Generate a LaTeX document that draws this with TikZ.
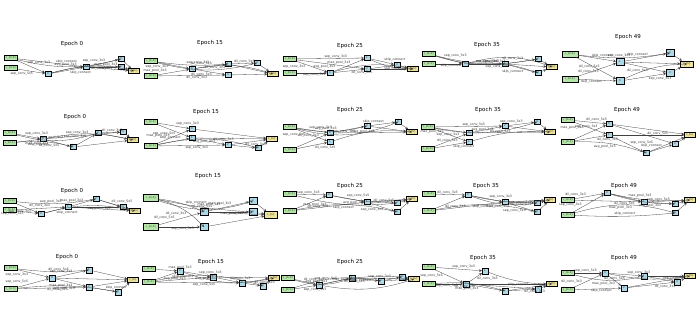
\documentclass[tikz,border=0pt]{standalone}
\usepackage{fontspec}
\setmainfont{DejaVu Sans}
\usetikzlibrary{positioning, arrows, arrows.meta}
\definecolor{inpgreen}{HTML}{B4E6A8}
\definecolor{midblue}{HTML}{ADD8E6}
\definecolor{outyellow}{HTML}{EEE39A}
\definecolor{edgegray}{rgb}{0.25,0.25,0.25}
\tikzset{
    ->, % Directed edges
    >=stealth, % Small arrowheads
    every edge/.style={draw=edgegray, line width=0.3pt}, % Thin edges
    lab/.style={font=\fontsize{3.2}{3.5}\selectfont, inner sep=0.4pt, text=black!80}, % Edge labels
    links/.style={nodes={pos=0.58}}, % Label position on edges
    ttl/.style={font=\fontsize{5.5}{6}\selectfont, text=black}, % Panel titles
    inp/.style={draw, line width=0.5pt, fill=inpgreen, minimum width=13pt, minimum height=5pt, inner sep=0.4pt, font=\fontsize{2.6}{3}\selectfont},
    mid/.style={draw, line width=0.5pt, fill=midblue, minimum size=5.5pt, inner sep=0.3pt, font=\fontsize{2.6}{3}\selectfont},
    outp/.style={draw, line width=0.5pt, fill=outyellow, minimum width=11pt, minimum height=5pt, inner sep=0.4pt, font=\fontsize{2.6}{3}\selectfont},
}

\begin{document}
\begin{tikzpicture}[x=1pt, y=-1pt, auto, every node/.style={lab}]
    \useasboundingbox (0,0) rectangle (700,336);

    % Row 1
    \begin{scope}[name prefix=ra-]
       \node[ttl] at (72,44) {Epoch 0};
       \node[inp] (a) at (11,58) {c\_\{k-2\}};
       \node[inp] (b) at (11,68) {c\_\{k-1\}};
       \node[mid] (n0) at (48,74) {0};
       \node[mid] (n1) at (86,67) {1};
       \node[mid] (n2) at (121,67) {2};
       \node[mid] (n3) at (121,59) {3};
       \node[outp] (ck) at (134,71) {c\_\{k\}};
       \path[links] (a) edge node [pos=0.35] {sep\_conv\_3x3} (n0)
                 edge node {skip\_connect} (n1)
                 edge [bend right=14] node {avg\_pool\_3x3} (n3)
             (b) edge node [swap] {sep\_conv\_5x5} (n0)
             (n0) edge node [swap] {skip\_connect} (n1)
                  edge [bend left=10] node [swap] {dil\_conv\_3x3} (n2)
             (n1) edge node {max\_pool\_3x3} (n2)
                  edge node {sep\_conv\_3x3} (n3)
             (n0) edge [bend left=14] (ck)
             (n1) edge (ck) (n2) edge (ck) (n3) edge (ck);
    \end{scope}

    \begin{scope}[name prefix=rb-]
       \node[ttl] at (210,43) {Epoch 15};
       \node[inp] (a) at (151,61) {c\_\{k-2\}};
       \node[inp] (b) at (151,76) {c\_\{k-1\}};
       \node[mid] (n0) at (192,69) {0};
       \node[mid] (n1) at (228,64) {1};
       \node[mid] (n2) at (257,63) {2};
       \node[mid] (n3) at (228,75) {3};
       \node[outp] (ck) at (273,74) {c\_\{k\}};
       \path[links] (a) edge node [swap, pos=0.35] {sep\_conv\_3x3} (n0)
                 edge [bend right=6] node {sep\_conv\_3x3} (n1)
                 edge [bend right=14] node {dil\_conv\_3x3} (n2)
             (b) edge node [pos=0.3] {max\_pool\_3x3} (n0)
                 edge node [swap] {dil\_conv\_3x3} (n3)
             (n0) edge node {dil\_conv\_5x5} (n1)
                  edge node [swap] {dil\_conv\_5x5} (n3)
             (n1) edge node {dil\_conv\_5x5} (n2)
             (n0) edge [bend left=14] (ck)
             (n1) edge (ck) (n2) edge (ck) (n3) edge (ck);
    \end{scope}

    \begin{scope}[name prefix=rc-]
       \node[ttl] at (350,46) {Epoch 25};
       \node[inp] (a) at (290,59) {c\_\{k-2\}};
       \node[inp] (b) at (290,73) {c\_\{k-1\}};
       \node[mid] (n0) at (330,73) {0};
       \node[mid] (n1) at (367,58) {1};
       \node[mid] (n2) at (367,69) {2};
       \node[mid] (n3) at (397,65) {3};
       \node[outp] (ck) at (413,69) {c\_\{k\}};
       \path[links] (a) edge node [swap, pos=0.3] {sep\_conv\_3x3} (n0)
                 edge node {sep\_conv\_3x3} (n1)
                 edge node [swap] {avg\_pool\_3x3} (n2)
             (b) edge node [swap] {sep\_conv\_5x5} (n0)
             (n0) edge node {max\_pool\_3x3} (n1)
                  edge node [swap] {dil\_conv\_5x5} (n2)
             (n1) edge node {skip\_connect} (n3)
             (n2) edge node [swap] {sep\_conv\_3x3} (n3)
             (n0) edge [bend left=14] (ck)
             (n1) edge [bend right=12] (ck) (n2) edge (ck) (n3) edge (ck);
    \end{scope}

    \begin{scope}[name prefix=rd-]
       \node[ttl] at (487,45) {Epoch 35};
       \node[inp] (a) at (429,54) {c\_\{k-2\}};
       \node[inp] (b) at (429,64) {c\_\{k-1\}};
       \node[mid] (n0) at (465,64) {0};
       \node[mid] (n1) at (505,64) {1};
       \node[mid] (n2) at (538,59) {2};
       \node[mid] (n3) at (538,73) {3};
       \node[outp] (ck) at (552,67) {c\_\{k\}};
       \path[links] (a) edge node [pos=0.3] {sep\_conv\_3x3} (n0)
                 edge [bend right=10] node {sep\_conv\_5x5} (n1)
                 edge [bend right=12] node {sep\_conv\_3x3} (n2)
             (b) edge node [swap] {skip\_connect} (n0)
             (n0) edge node {max\_pool\_3x3} (n1)
                  edge [bend left=12] node [swap] {sep\_conv\_5x5} (n3)
             (n1) edge node {dil\_conv\_3x3} (n2)
                  edge node [swap] {skip\_connect} (n3)
             (n0) edge [bend left=18] (ck)
             (n1) edge (ck) (n2) edge (ck) (n3) edge (ck);
    \end{scope}

    \begin{scope}[name prefix=re-, mid/.append style={minimum size=7.5pt}, inp/.append style={minimum width=16pt, minimum height=6pt}, outp/.append style={minimum height=6pt, minimum width=13pt}]
       \node[ttl] at (628,37) {Epoch 49};
       \node[inp] (a) at (570,54) {c\_\{k-2\}};
       \node[inp] (b) at (570,79) {c\_\{k-1\}};
       \node[mid] (n0) at (620,81) {0};
       \node[mid] (n1) at (620,62) {1};
       \node[mid] (n2) at (670,53) {2};
       \node[mid] (n3) at (670,73) {3};
       \node[outp] (ck) at (687,64) {c\_\{k\}};
       \path[links] (a) edge node [pos=0.35] {skip\_connect} (n1)
                 edge node [swap] {dil\_conv\_3x3} (n0)
                 edge [bend right=8] node {sep\_conv\_3x3} (n2)
             (b) edge node {dil\_conv\_5x5} (n1)
                 edge node [swap, pos=0.35] {skip\_connect} (n0)
             (n1) edge node {skip\_connect} (n2)
                  edge node [swap] {dil\_conv\_5x5} (n3)
             (n0) edge node [swap] {sep\_conv\_3x3} (n3)
             (n0) edge [bend left=12] (ck)
             (n1) edge (ck) (n2) edge (ck) (n3) edge (ck);
    \end{scope}

    % Row 2
    \begin{scope}[name prefix=sa-]
       \node[ttl] at (75,117) {Epoch 0};
       \node[inp] (a) at (10,133) {c\_\{k-2\}};
       \node[inp] (b) at (10,143) {c\_\{k-1\}};
       \node[mid] (n0) at (43,139) {0};
       \node[mid] (n1) at (73,147) {1};
       \node[mid] (n2) at (98,133) {2};
       \node[mid] (n3) at (123,132) {3};
       \node[outp] (ck) at (133,140) {c\_\{k\}};
       \path[links] (a) edge node [pos=0.35] {sep\_conv\_3x3} (n0)
                 edge [bend right=16] node {avg\_pool\_3x3} (n2)
             (b) edge node [swap, pos=0.35] {max\_pool\_3x3} (n0)
                 edge [bend left=10] node [swap] {skip\_connect} (n1)
             (n0) edge node [swap] {dil\_conv\_5x5} (n1)
                  edge node {sep\_conv\_3x3} (n3)
             (n1) edge node {sep\_conv\_5x5} (n2)
             (n2) edge node {dil\_conv\_3x3} (n3)
             (n0) edge [bend left=12] (ck)
             (n1) edge (ck) (n2) edge (ck) (n3) edge (ck);
    \end{scope}

    \begin{scope}[name prefix=sb-]
       \node[ttl] at (206,112) {Epoch 15};
       \node[inp] (a) at (151,122) {c\_\{k-2\}};
       \node[inp] (b) at (151,146) {c\_\{k-1\}};
       \node[mid] (n0) at (192,129) {0};
       \node[mid] (n1) at (192,138) {1};
       \node[mid] (n2) at (228,145) {2};
       \node[mid] (n3) at (258,148) {3};
       \node[outp] (ck) at (272,139) {c\_\{k\}};
       \path[links] (a) edge node {sep\_conv\_3x3} (n0)
                 edge node [swap] {sep\_conv\_5x5} (n1)
             (b) edge node [pos=0.4] {max\_pool\_3x3} (n0)
                 edge node [pos=0.75] {skip\_connect} (n1)
                 edge node [swap] {sep\_conv\_3x3} (n2)
                 edge [bend left=14] node [swap] {avg\_pool\_3x3} (n3)
             (n1) edge node {dil\_conv\_3x3} (n2)
             (n2) edge node {dil\_conv\_5x5} (n3)
             (n0) edge (ck)
             (n1) edge (ck) (n2) edge (ck) (n3) edge (ck);
    \end{scope}

    \begin{scope}[name prefix=sc-]
       \node[ttl] at (350,110) {Epoch 25};
       \node[inp] (a) at (290,127) {c\_\{k-2\}};
       \node[inp] (b) at (290,150) {c\_\{k-1\}};
       \node[mid] (n0) at (330,133) {0};
       \node[mid] (n1) at (330,142) {1};
       \node[mid] (n2) at (367,126) {2};
       \node[mid] (n3) at (398,122) {3};
       \node[outp] (ck) at (412,132) {c\_\{k\}};
       \path[links] (a) edge node [pos=0.4] {sep\_conv\_3x3} (n0)
                 edge node [swap, pos=0.3] {sep\_conv\_5x5} (n1)
                 edge [bend right=12] node {avg\_pool\_3x3} (n2)
                 edge [bend right=18] node {sep\_conv\_3x3} (n3)
             (b) edge node [pos=0.75] {dil\_conv\_3x3} (n0)
                 edge node [swap] {dil\_conv\_5x5} (n1)
             (n0) edge node [swap] {max\_pool\_3x3} (n2)
             (n2) edge node {skip\_connect} (n3)
             (n0) edge (ck)
             (n1) edge [bend left=12] (ck) (n2) edge (ck) (n3) edge (ck);
    \end{scope}

    \begin{scope}[name prefix=sd-]
       \node[ttl] at (488,110) {Epoch 35};
       \node[inp] (a) at (428,127) {c\_\{k-2\}};
       \node[inp] (b) at (428,149) {c\_\{k-1\}};
       \node[mid] (n0) at (469,133) {0};
       \node[mid] (n1) at (469,142) {1};
       \node[mid] (n2) at (505,126) {2};
       \node[mid] (n3) at (537,122) {3};
       \node[outp] (ck) at (550,132) {c\_\{k\}};
       \path[links] (a) edge node [swap, pos=0.3] {max\_pool\_3x3} (n0)
                 edge node [swap, pos=0.75] {dil\_conv\_3x3} (n1)
                 edge node {sep\_conv\_5x5} (n2)
                 edge [bend right=14] node {avg\_pool\_3x3} (n3)
             (b) edge node [pos=0.8] {sep\_conv\_3x3} (n0)
                 edge node [swap] {skip\_connect} (n1)
             (n0) edge node [swap] {dil\_conv\_5x5} (n2)
             (n2) edge node {sep\_conv\_3x3} (n3)
             (n0) edge (ck)
             (n1) edge [bend left=10] (ck) (n2) edge (ck) (n3) edge (ck);
    \end{scope}

    \begin{scope}[name prefix=se-]
       \node[ttl] at (627,110) {Epoch 49};
       \node[inp] (a) at (568,120) {c\_\{k-2\}};
       \node[inp] (b) at (568,142) {c\_\{k-1\}};
       \node[mid] (n0) at (609,124) {0};
       \node[mid] (n1) at (609,135) {1};
       \node[mid] (n2) at (675,144) {2};
       \node[mid] (n3) at (646,153) {3};
       \node[outp] (ck) at (690,135) {c\_\{k\}};
       \path[links] (a) edge node [pos=0.35] {dil\_conv\_5x5} (n0)
                 edge node [swap, pos=0.3] {max\_pool\_3x3} (n1)
             (b) edge node [pos=0.75] {sep\_conv\_3x3} (n0)
                 edge node [swap, pos=0.7] {dil\_conv\_3x3} (n1)
                 edge [bend left=10] node [swap] {avg\_pool\_3x3} (n3)
             (n1) edge node {sep\_conv\_5x5} (n3)
             (n0) edge node {dil\_conv\_5x5} (n2)
             (n3) edge node {skip\_connect} (n2)
             (n0) edge (ck)
             (n1) edge (ck) (n2) edge (ck) (n3) edge (ck);
    \end{scope}

    % Row 3
    \begin{scope}[name prefix=ta-]
       \node[ttl] at (72,191) {Epoch 0};
       \node[inp] (a) at (10,201) {c\_\{k-2\}};
       \node[inp] (b) at (10,210) {c\_\{k-1\}};
       \node[mid] (n0) at (41,214) {0};
       \node[mid] (n1) at (68,207) {1};
       \node[mid] (n2) at (96,199) {2};
       \node[mid] (n3) at (123,207) {3};
       \node[outp] (ck) at (135,211) {c\_\{k\}};
       \path[links] (a) edge node [swap, pos=0.7] {sep\_conv\_3x3} (n0)
                 edge [bend right=8] node {avg\_pool\_3x3} (n2)
             (b) edge node [swap, pos=0.35] {sep\_conv\_5x5} (n0)
                 edge node [pos=0.7] {dil\_conv\_3x3} (n1)
             (n0) edge node [swap] {skip\_connect} (n1)
             (n1) edge node {max\_pool\_3x3} (n2)
                  edge node [swap] {sep\_conv\_3x3} (n3)
             (n2) edge node {dil\_conv\_5x5} (n3)
             (n0) edge [bend left=14] (ck)
             (n1) edge (ck) (n2) edge (ck) (n3) edge (ck);
    \end{scope}

    \begin{scope}[name prefix=tb-, mid/.append style={minimum size=7.5pt}, inp/.append style={minimum width=15pt, minimum height=7pt}, outp/.append style={minimum height=6.5pt, minimum width=13pt}]
       \node[ttl] at (208,176) {Epoch 15};
       \node[inp] (a) at (151,198) {c\_\{k-2\}};
       \node[inp] (b) at (151,227) {c\_\{k-1\}};
       \node[mid] (n0) at (204,212) {0};
       \node[mid] (n1) at (204,227) {1};
       \node[mid] (n2) at (253,201) {2};
       \node[mid] (n3) at (253,212) {3};
       \node[outp] (ck) at (271,215) {c\_\{k\}};
       \path[links] (a) edge [bend left=8] node {skip\_connect} (n0)
                 edge [bend left=16] node [swap] {dil\_conv\_3x3} (n1)
                 edge [bend right=18] node {dil\_conv\_5x5} (n2)
                 edge [bend right=4] node [pos=0.4] {max\_pool\_3x3} (n3)
             (b) edge node [pos=0.4] {dil\_conv\_5x5} (n0)
                 edge node [swap] {sep\_conv\_3x3} (n1)
             (n0) edge node {max\_pool\_3x3} (n2)
                  edge node [swap] {max\_pool\_3x3} (n3)
             (n0) edge (ck)
             (n1) edge (ck) (n2) edge (ck) (n3) edge (ck);
    \end{scope}

    \begin{scope}[name prefix=tc-]
       \node[ttl] at (350,186) {Epoch 25};
       \node[inp] (a) at (290,194) {c\_\{k-2\}};
       \node[inp] (b) at (290,211) {c\_\{k-1\}};
       \node[mid] (n0) at (329,195) {0};
       \node[mid] (n1) at (367,202) {1};
       \node[mid] (n2) at (397,203) {2};
       \node[mid] (n3) at (397,212) {3};
       \node[outp] (ck) at (412,199) {c\_\{k\}};
       \path[links] (a) edge node [pos=0.4] {sep\_conv\_3x3} (n0)
                 edge [bend right=10] node {avg\_pool\_3x3} (n2)
             (b) edge node [swap, pos=0.35] {dil\_conv\_3x3} (n0)
                 edge node [pos=0.45] {max\_pool\_3x3} (n1)
                 edge [bend left=12] node [swap] {skip\_connect} (n3)
             (n0) edge node [pos=0.45] {sep\_conv\_5x5} (n1)
             (n1) edge node {dil\_conv\_5x5} (n2)
                  edge node [swap] {sep\_conv\_3x3} (n3)
             (n0) edge [bend right=10] (ck)
             (n1) edge (ck) (n2) edge (ck) (n3) edge (ck);
    \end{scope}

    \begin{scope}[name prefix=td-]
       \node[ttl] at (486,186) {Epoch 35};
       \node[inp] (a) at (429,194) {c\_\{k-2\}};
       \node[inp] (b) at (429,211) {c\_\{k-1\}};
       \node[mid] (n0) at (468,195) {0};
       \node[mid] (n1) at (505,202) {1};
       \node[mid] (n2) at (537,203) {2};
       \node[mid] (n3) at (537,212) {3};
       \node[outp] (ck) at (550,200) {c\_\{k\}};
       \path[links] (a) edge node [pos=0.4] {dil\_conv\_3x3} (n0)
             (b) edge node [swap, pos=0.3] {dil\_conv\_5x5} (n0)
                 edge node [swap, pos=0.75] {max\_pool\_3x3} (n1)
                 edge [bend left=12] node [swap] {skip\_connect} (n3)
             (n0) edge node {sep\_conv\_3x3} (n1)
                  edge [bend right=14] node {sep\_conv\_5x5} (n2)
             (n1) edge node [swap, pos=0.5] {dil\_conv\_5x5} (n2)
                  edge node [swap, pos=0.7] {sep\_conv\_3x3} (n3)
             (n0) edge [bend right=10] (ck)
             (n1) edge (ck) (n2) edge (ck) (n3) edge (ck);
    \end{scope}

    \begin{scope}[name prefix=te-]
       \node[ttl] at (624,186) {Epoch 49};
       \node[inp] (a) at (568,200) {c\_\{k-2\}};
       \node[inp] (b) at (568,215) {c\_\{k-1\}};
       \node[mid] (n0) at (607,193) {0};
       \node[mid] (n1) at (644,202) {1};
       \node[mid] (n2) at (675,204) {2};
       \node[mid] (n3) at (675,213) {3};
       \node[outp] (ck) at (690,200) {c\_\{k\}};
       \path[links] (a) edge node [pos=0.4] {dil\_conv\_3x3} (n0)
                 edge node [swap, pos=0.75] {dil\_conv\_5x5} (n1)
             (b) edge node [pos=0.3] {sep\_conv\_3x3} (n0)
                 edge [bend right=4] node [pos=0.5] {skip\_connect} (n3)
                 edge [bend left=16] node [swap] {max\_pool\_3x3} (n3)
             (n0) edge node {max\_pool\_3x3} (n1)
                  edge [bend right=8] node {sep\_conv\_5x5} (n2)
             (n1) edge node [swap] {avg\_pool\_3x3} (n2)
             (n0) edge [bend right=8] (ck)
             (n1) edge (ck) (n2) edge (ck) (n3) edge (ck);
    \end{scope}

    % Row 4
    \begin{scope}[name prefix=ua-]
       \node[ttl] at (67,257) {Epoch 0};
       \node[inp] (a) at (11,268) {c\_\{k-2\}};
       \node[inp] (b) at (11,289) {c\_\{k-1\}};
       \node[mid] (n0) at (52,278) {0};
       \node[mid] (n1) at (89,270) {1};
       \node[mid] (n2) at (89,287) {2};
       \node[mid] (n3) at (118,292) {3};
       \node[outp] (ck) at (133,280) {c\_\{k\}};
       \path[links] (a) edge node [swap, pos=0.35] {sep\_conv\_3x3} (n0)
                 edge [bend right=6] node {dil\_conv\_5x5} (n1)
             (b) edge node [pos=0.35] {sep\_conv\_5x5} (n0)
                 edge node [swap] {dil\_conv\_3x3} (n2)
                 edge [bend left=8] node [swap] {avg\_pool\_3x3} (n3)
             (n0) edge node {sep\_conv\_3x3} (n1)
                  edge node [swap] {max\_pool\_3x3} (n2)
             (n2) edge node {skip\_connect} (n3)
             (n0) edge (ck)
             (n1) edge (ck) (n2) edge (ck) (n3) edge (ck);
    \end{scope}

    \begin{scope}[name prefix=ub-]
       \node[ttl] at (211,262) {Epoch 15};
       \node[inp] (a) at (149,269) {c\_\{k-2\}};
       \node[inp] (b) at (149,282) {c\_\{k-1\}};
       \node[mid] (n0) at (180,271) {0};
       \node[mid] (n1) at (213,277) {1};
       \node[mid] (n2) at (242,283) {2};
       \node[mid] (n3) at (263,286) {3};
       \node[outp] (ck) at (274,278) {c\_\{k\}};
       \path[links] (a) edge node {max\_pool\_3x3} (n0)
             (b) edge node [swap, pos=0.35] {avg\_pool\_3x3} (n0)
                 edge node [pos=0.7] {skip\_connect} (n1)
                 edge node [swap] {sep\_conv\_5x5} (n2)
                 edge [bend left=14] node [swap] {avg\_pool\_3x3} (n3)
             (n0) edge node {sep\_conv\_3x3} (n1)
             (n1) edge node {dil\_conv\_3x3} (n2)
             (n2) edge node {dil\_conv\_5x5} (n3)
             (n0) edge [bend right=16] (ck)
             (n1) edge (ck) (n2) edge (ck) (n3) edge (ck);
    \end{scope}

    \begin{scope}[name prefix=uc-]
       \node[ttl] at (350,262) {Epoch 25};
       \node[inp] (a) at (288,278) {c\_\{k-2\}};
       \node[inp] (b) at (288,290) {c\_\{k-1\}};
       \node[mid] (n0) at (319,285) {0};
       \node[mid] (n1) at (352,278) {1};
       \node[mid] (n2) at (381,281) {2};
       \node[mid] (n3) at (402,277) {3};
       \node[outp] (ck) at (414,279) {c\_\{k\}};
       \path[links] (a) edge node [pos=0.4] {dil\_conv\_3x3} (n0)
                 edge [bend right=18] node {avg\_pool\_3x3} (n1)
             (b) edge node [swap, pos=0.4] {sep\_conv\_3x3} (n0)
                 edge [bend left=14] node [swap] {max\_pool\_3x3} (n2)
             (n0) edge node {sep\_conv\_5x5} (n1)
                  edge [bend left=8] node [swap, pos=0.35] {skip\_connect} (n3)
             (n1) edge node [swap, pos=0.45] {dil\_conv\_5x5} (n2)
             (n2) edge node [pos=0.5] {sep\_conv\_3x3} (n3)
             (n0) edge [bend right=14] (ck)
             (n1) edge (ck) (n2) edge (ck) (n3) edge (ck);
    \end{scope}

    \begin{scope}[name prefix=ud-]
       \node[ttl] at (483,258) {Epoch 35};
       \node[inp] (a) at (429,267) {c\_\{k-2\}};
       \node[inp] (b) at (429,284) {c\_\{k-1\}};
       \node[mid] (n0) at (466,284) {0};
       \node[mid] (n1) at (485,271) {1};
       \node[mid] (n2) at (505,291) {2};
       \node[mid] (n3) at (538,289) {3};
       \node[outp] (ck) at (552,284) {c\_\{k\}};
       \path[links] (a) edge node [pos=0.35] {sep\_conv\_3x3} (n1)
                 edge node [swap, pos=0.3] {sep\_conv\_5x5} (n0)
             (b) edge node [swap, pos=0.4] {sep\_conv\_3x3} (n0)
                 edge [bend left=10] node [swap] {dil\_conv\_5x5} (n2)
             (n0) edge node [swap] {dil\_conv\_3x3} (n1)
                  edge node [swap, pos=0.3] {max\_pool\_3x3} (n2)
                  edge node {skip\_connect} (n3)
             (n2) edge node [swap] {dil\_conv\_3x3} (n3)
             (n0) edge (ck)
             (n1) edge [bend right=10] (ck) (n2) edge (ck) (n3) edge (ck);
    \end{scope}

    \begin{scope}[name prefix=ue-]
       \node[ttl] at (624,258) {Epoch 49};
       \node[inp] (a) at (568,273) {c\_\{k-2\}};
       \node[inp] (b) at (568,290) {c\_\{k-1\}};
       \node[mid] (n0) at (605,273) {0};
       \node[mid] (n1) at (644,276) {1};
       \node[mid] (n2) at (624,288) {2};
       \node[mid] (n3) at (677,282) {3};
       \node[outp] (ck) at (690,276) {c\_\{k\}};
       \path[links] (a) edge node [pos=0.4] {sep\_conv\_5x5} (n0)
                 edge [bend right=14] node {dil\_conv\_5x5} (n1)
             (b) edge node [pos=0.3] {dil\_conv\_3x3} (n0)
                 edge node [swap] {skip\_connect} (n2)
             (n0) edge node {sep\_conv\_3x3} (n1)
                  edge node [swap] {max\_pool\_3x3} (n2)
             (n1) edge node {sep\_conv\_3x3} (n3)
             (n2) edge node [swap] {dil\_conv\_3x3} (n3)
             (n0) edge [bend right=10] (ck)
             (n1) edge (ck) (n2) edge (ck) (n3) edge (ck);
    \end{scope}
\end{tikzpicture}
\end{document}
